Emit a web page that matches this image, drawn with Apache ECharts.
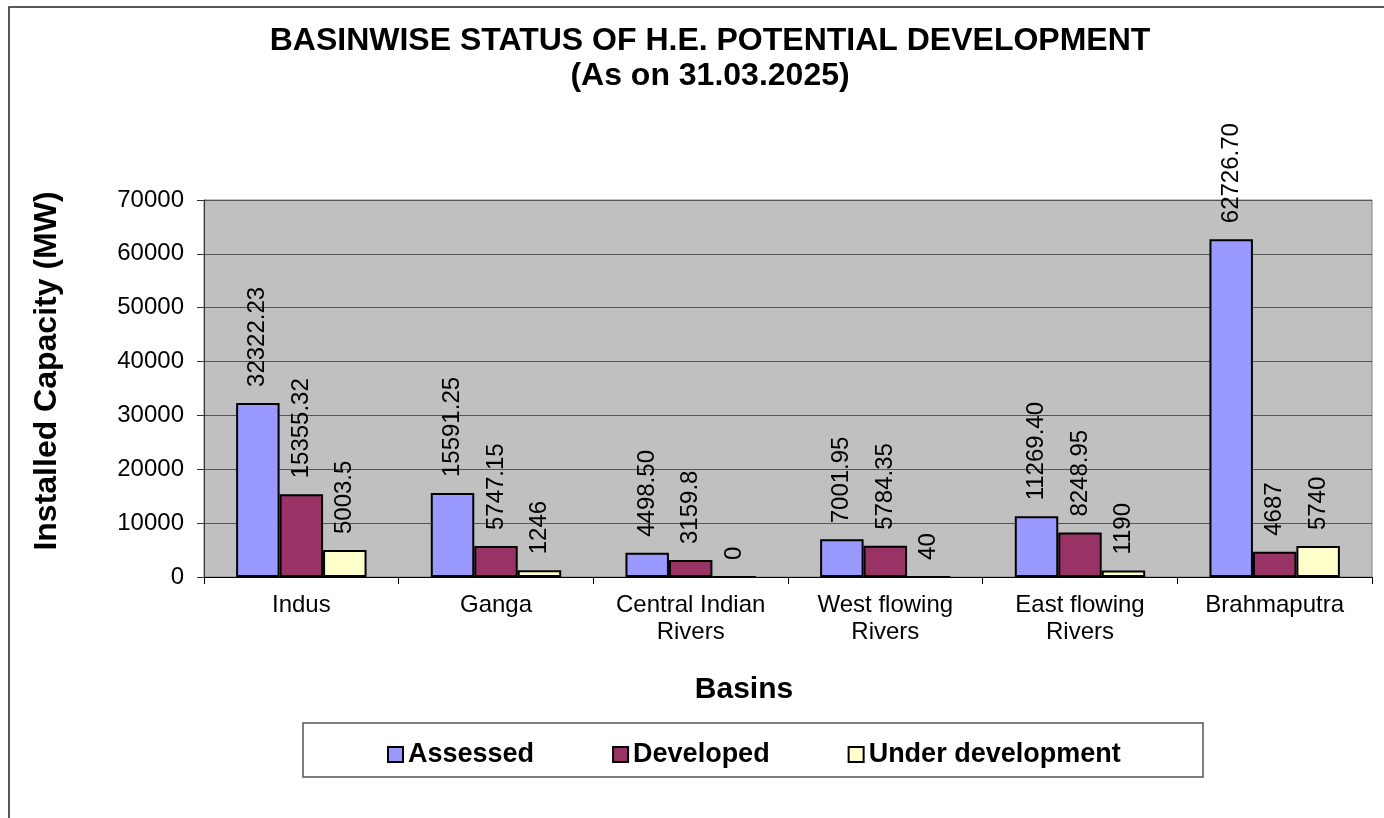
<!DOCTYPE html>
<html>
<head>
<meta charset="utf-8">
<title>Basinwise Status of H.E. Potential Development</title>
<script src="https://cdn.jsdelivr.net/npm/echarts@6/dist/echarts.min.js"></script>
<style>
  html, body { margin: 0; padding: 0; background: #ffffff; }
  #chart { width: 1384px; height: 818px; }
</style>
</head>
<body>
<div id="chart"></div>
<script>
// Basin categories and installed capacity (MW) per series
const basins = ['Indus', 'Ganga', 'Central Indian\nRivers', 'West flowing\nRivers', 'East flowing\nRivers', 'Brahmaputra'];
const assessed = [32322.23, 15591.25, 4498.50, 7001.95, 11269.40, 62726.70];
const developed = [15355.32, 5747.15, 3159.8, 5784.35, 8248.95, 4687];
const underDevelopment = [5003.5, 1246, 0, 40, 1190, 5740];
const seriesNames = ['Assessed', 'Developed', 'Under development'];
const yTicks = [0, 10000, 20000, 30000, 40000, 50000, 60000, 70000];

const FONT = '"Liberation Sans", Arial, Helvetica, sans-serif';
const colors = ['#9999FF', '#993366', '#FFFFCC'];

const chart = echarts.init(document.getElementById('chart'), null, { renderer: 'canvas' });

function barSeries(name, data, color, fmt) {
  return {
    name: name,
    type: 'bar',
    data: data,
    barGap: '0%',
    barCategoryGap: '33%',
    itemStyle: { color: color, borderColor: '#000000', borderWidth: 2 },
    label: {
      show: true,
      position: 'top',
      rotate: 90,
      align: 'left',
      verticalAlign: 'middle',
      distance: 16,
      color: '#000000',
      fontFamily: FONT,
      fontSize: 24,
      formatter: p => fmt(data[p.dataIndex])
    },
    emphasis: { disabled: true }
  };
}

const option = {
  animation: false,
  backgroundColor: '#ffffff',
  title: {
    text: 'BASINWISE STATUS OF H.E. POTENTIAL DEVELOPMENT\n(As on 31.03.2025)',
    left: 705,
    top: 19,
    textAlign: 'center',
    textStyle: {
      fontFamily: FONT,
      fontSize: 32,
      fontWeight: 'bold',
      color: '#000000',
      lineHeight: 35
    }
  },
  grid: {
    left: 204,
    right: 12,
    top: 200,
    bottom: 241,
    show: true,
    backgroundColor: '#C0C0C0',
    borderColor: '#808080',
    borderWidth: 1
  },
  legend: {
    data: seriesNames,
    left: 382,
    top: 736,
    itemWidth: 15,
    itemHeight: 15,
    itemGap: 78,
    icon: 'rect',
    textStyle: { fontFamily: FONT, fontSize: 27, fontWeight: 'bold', color: '#000000' },
    itemStyle: { borderColor: '#000000', borderWidth: 2 }
  },
  xAxis: {
    type: 'category',
    data: basins,
    axisLine: { lineStyle: { color: '#000000', width: 1 } },
    axisTick: { show: true, alignWithLabel: false, length: 7, lineStyle: { color: '#000000' } },
    axisLabel: {
      interval: 0,
      margin: 15,
      color: '#000000',
      fontFamily: FONT,
      fontSize: 24,
      lineHeight: 27
    }
  },
  yAxis: {
    type: 'value',
    min: yTicks[0],
    max: yTicks[yTicks.length - 1],
    interval: yTicks[1] - yTicks[0],
    axisLine: { show: true, lineStyle: { color: '#333333', width: 1 } },
    axisTick: { show: true, inside: false, length: 7, lineStyle: { color: '#333333' } },
    axisLabel: {
      margin: 20,
      color: '#000000',
      fontFamily: FONT,
      fontSize: 24,
      formatter: v => String(v)
    },
    splitLine: { show: true, lineStyle: { color: '#555555', width: 1 } }
  },
  graphic: [
    // outer chart frame (left and top edges)
    { type: 'polyline', silent: true, shape: { points: [[9, 818], [9, 7], [1384, 7]] },
      style: { stroke: '#222222', lineWidth: 1.5, fill: null } },
    // legend frame
    { type: 'rect', silent: true, z: -1, shape: { x: 303, y: 723, width: 900, height: 54 },
      style: { stroke: '#555555', lineWidth: 1.5, fill: '#ffffff' } },
    // value axis title
    { type: 'text', silent: true, x: 47, y: 371, rotation: Math.PI / 2,
      style: { text: 'Installed Capacity (MW)', fontFamily: FONT, fontSize: 32, fontWeight: 'bold',
               fill: '#000000', align: 'center', verticalAlign: 'middle' } },
    // category axis title
    { type: 'text', silent: true, x: 744, y: 690,
      style: { text: 'Basins', fontFamily: FONT, fontSize: 30, fontWeight: 'bold',
               fill: '#000000', align: 'center', verticalAlign: 'middle' } }
  ],
  series: [
    barSeries(seriesNames[0], assessed, colors[0], v => v.toFixed(2)),
    barSeries(seriesNames[1], developed, colors[1], v => String(v)),
    barSeries(seriesNames[2], underDevelopment, colors[2], v => String(v))
  ]
};

chart.setOption(option);
</script>
</body>
</html>
